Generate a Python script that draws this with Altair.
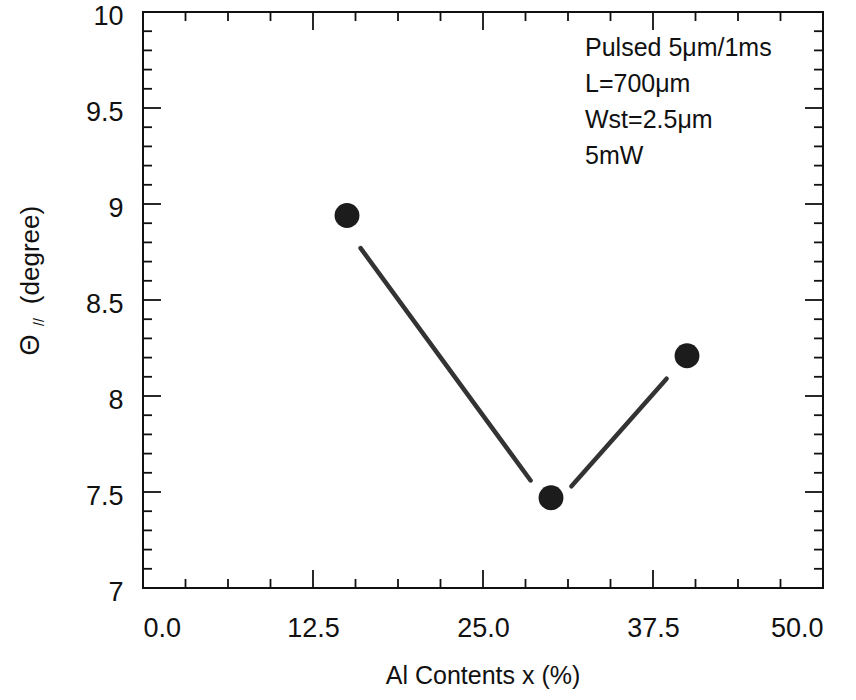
import altair as alt
import pandas as pd

# ---- data ----
al_content = [15.0, 30.0, 40.0]
theta_par = [8.94, 7.47, 8.21]

# drawn line segments (they stop short of the markers)
seg_x1 = [16.0, 31.5]
seg_y1 = [8.77, 7.53]
seg_x2 = [28.5, 38.5]
seg_y2 = [7.56, 8.09]

x_major = [0.0, 12.5, 25.0, 37.5, 50.0]
x_minor = [3.125, 6.25, 9.375, 15.625, 18.75, 21.875, 28.125, 31.25, 34.375,
           40.625, 43.75, 46.875]
y_major = [7.0, 7.5, 8.0, 8.5, 9.0, 9.5, 10.0]
y_minor = [7.1, 7.2, 7.3, 7.4, 7.6, 7.7, 7.8, 7.9, 8.1, 8.2, 8.3, 8.4,
           8.6, 8.7, 8.8, 8.9, 9.1, 9.2, 9.3, 9.4, 9.6, 9.7, 9.8, 9.9]

note_lines = ["Pulsed 5\u03bcm/1ms", "L=700\u03bcm", "Wst=2.5\u03bcm", "5mW"]
x_title = "Al Contents x (%)"

W, H = 680, 576
FONT = "Liberation Sans"
MAJ, MIN = 18, 9
TICK_COLOR = "#111111"
INK = "#111111"

pts = pd.DataFrame({"x": al_content, "y": theta_par})
segs = pd.DataFrame({"x": seg_x1, "y": seg_y1, "x2": seg_x2, "y2": seg_y2})
xmaj = pd.DataFrame({"x": x_major})
xmin = pd.DataFrame({"x": x_minor})
ymaj = pd.DataFrame({"y": y_major})
ymin = pd.DataFrame({"y": y_minor})

xs = alt.Scale(domain=[0, 50], nice=False, zero=False)
ys = alt.Scale(domain=[7, 10], nice=False, zero=False)

x_axis = alt.Axis(values=x_major, format=".1f", ticks=False, domain=False, grid=False,
                  labelFont=FONT, labelFontSize=27, labelColor=INK,
                  labelPadding=27, title=None)
y_axis = alt.Axis(values=y_major, format="~g", ticks=False, domain=False, grid=False,
                  labelFont=FONT, labelFontSize=27, labelColor=INK,
                  labelPadding=20, labelOffset=4, title=None)

base_pts = alt.Chart(pts).mark_circle(size=620, color="#1c1c1c", opacity=1).encode(
    x=alt.X("x:Q", scale=xs, axis=x_axis),
    y=alt.Y("y:Q", scale=ys, axis=y_axis),
)

lines = alt.Chart(segs).mark_rule(strokeWidth=4.5, strokeCap="round", color="#333333").encode(
    x=alt.X("x:Q", scale=xs), y=alt.Y("y:Q", scale=ys),
    x2="x2:Q", y2="y2:Q",
)

def vticks(df, y0, y1):
    return alt.Chart(df).mark_rule(color=TICK_COLOR, strokeWidth=1.8).encode(
        x=alt.X("x:Q", scale=xs), y=alt.value(y0), y2=alt.value(y1))

def hticks(df, x0, x1):
    return alt.Chart(df).mark_rule(color=TICK_COLOR, strokeWidth=1.8).encode(
        y=alt.Y("y:Q", scale=ys), x=alt.value(x0), x2=alt.value(x1))

ticks = [
    vticks(xmaj, H, H - MAJ), vticks(xmin, H, H - MIN),
    vticks(xmaj, 0, MAJ), vticks(xmin, 0, MIN),
    hticks(ymaj, 0, MAJ), hticks(ymin, 0, MIN),
    hticks(ymaj, W, W - MAJ), hticks(ymin, W, W - MIN),
]

note = alt.Chart(pd.DataFrame({"t": ["\n".join(note_lines)]})).mark_text(
    align="left", baseline="top", font=FONT, fontSize=25, lineHeight=36,
    lineBreak="\n", color=INK,
).encode(text="t:N", x=alt.value(442), y=alt.value(24))

xt = alt.Chart(pd.DataFrame({"t": [x_title]})).mark_text(
    align="center", baseline="middle", font=FONT, fontSize=25, color=INK,
).encode(text="t:N", x=alt.value(W / 2), y=alt.value(664))

yt_theta = alt.Chart(pd.DataFrame({"t": ["\u0398"]})).mark_text(
    align="center", baseline="middle", font=FONT, fontSize=27, angle=270, color=INK,
).encode(text="t:N", x=alt.value(-112), y=alt.value(333))
yt_sub = alt.Chart(pd.DataFrame({"t": ["//"]})).mark_text(
    align="center", baseline="middle", font=FONT, fontSize=14, angle=270, color=INK,
).encode(text="t:N", x=alt.value(-103), y=alt.value(310))
yt_unit = alt.Chart(pd.DataFrame({"t": ["(degree)"]})).mark_text(
    align="center", baseline="middle", font=FONT, fontSize=26, angle=270, color=INK,
).encode(text="t:N", x=alt.value(-112), y=alt.value(243))

chart = alt.layer(
    lines, base_pts, *ticks, note, xt, yt_theta, yt_sub, yt_unit
).properties(
    width=W, height=H,
    autosize=alt.AutoSizeParams(type="none"),
    padding={"left": 143, "top": 12, "right": 33, "bottom": 112},
    background="white",
).configure_view(stroke="#111111", strokeWidth=2)

chart.save("out.html", embed_options={"renderer": "svg", "actions": False})
